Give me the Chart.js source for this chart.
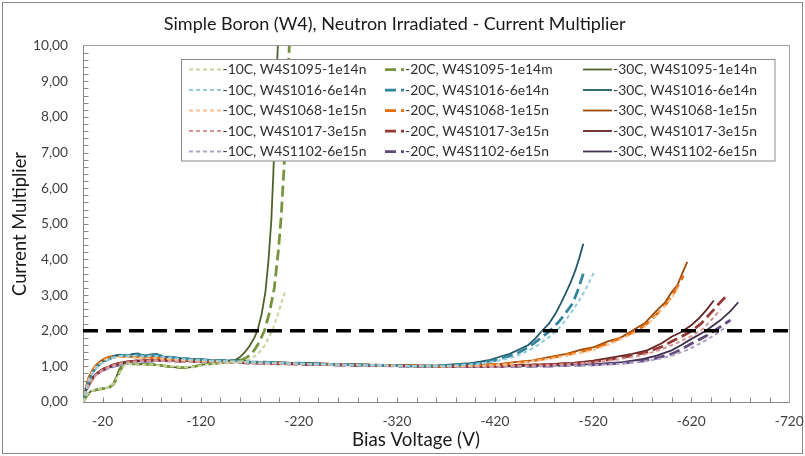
<!DOCTYPE html>
<html>
<head>
<meta charset="utf-8">
<script src="https://cdn.jsdelivr.net/npm/chart.js@4.4.1/dist/chart.umd.min.js"></script>
<style>
  html, body { margin: 0; padding: 0; background: #fff; }
</style>
</head>
<body>
<canvas id="chart" width="805" height="456"></canvas>
<script>
const TITLE = 'Simple Boron (W4), Neutron Irradiated - Current Multiplier';
const X_TITLE = 'Bias Voltage (V)';
const Y_TITLE = 'Current Multiplier';

const xTicks = [-720, -620, -520, -420, -320, -220, -120, -20];
const yTicks = [0, 1, 2, 3, 4, 5, 6, 7, 8, 9, 10];
const threshold = 2;

const labels = [
  '-10C, W4S1095-1e14n', '-10C, W4S1016-6e14n', '-10C, W4S1068-1e15n', '-10C, W4S1017-3e15n', '-10C, W4S1102-6e15n',
  '-20C, W4S1095-1e14m', '-20C, W4S1016-6e14n', '-20C, W4S1068-1e15n', '-20C, W4S1017-3e15n', '-20C, W4S1102-6e15n',
  '-30C, W4S1095-1e14n', '-30C, W4S1016-6e14n', '-30C, W4S1068-1e15n', '-30C, W4S1017-3e15n', '-30C, W4S1102-6e15n'
];

// W4S1095-1e14 (green), own voltage steps
const vG10 = [0,-4,-8,-12,-17,-22,-27,-31,-35,-39,-42,-46,-53,-61,-70,-80,-90,-100,-108,-116,-125,-135,-145,-153,-162,-170,-178,-185,-193,-198,-203,-206];
const mG10 = [0,0.2,0.3,0.35,0.37,0.39,0.43,0.52,0.7,0.9,1.02,1.07,1.06,1.05,1.05,1.02,1.0,0.98,0.97,1.0,1.05,1.07,1.09,1.1,1.14,1.2,1.33,1.58,2.0,2.4,2.85,3.1];
const vG20 = [0,-4,-8,-12,-17,-22,-27,-31,-35,-38,-41,-45,-52,-60,-68,-77,-87,-97,-105,-113,-122,-132,-142,-150,-158,-165,-172,-178,-185,-190,-195,-199,-202,-205,-208,-211];
const mG20 = [0,0.18,0.28,0.33,0.36,0.38,0.41,0.5,0.68,0.9,1.02,1.08,1.07,1.05,1.06,1.03,1.0,0.98,0.96,0.99,1.05,1.08,1.1,1.12,1.15,1.22,1.35,1.6,2.0,2.5,3.2,4.2,5.2,6.6,8.4,10.5];
const vG30 = [0,-4,-8,-12,-17,-22,-27,-31,-34,-37,-40,-44,-50,-58,-66,-75,-85,-95,-103,-110,-120,-130,-140,-148,-155,-160,-165,-170,-175,-178,-182,-186,-189,-192,-194,-196,-198,-200];
const mG30 = [0,0.2,0.3,0.34,0.37,0.38,0.42,0.52,0.7,0.92,1.04,1.1,1.08,1.06,1.07,1.04,1.0,0.97,0.95,0.98,1.04,1.08,1.1,1.12,1.17,1.26,1.4,1.58,1.82,2.02,2.45,3.1,3.95,5.1,6.4,7.9,9.6,11];

// common low-voltage steps for the other samples
const vBase = [0,-3,-6,-10,-14,-18,-22,-27,-32,-38,-44,-50,-56,-62,-68,-75,-82,-90,-100,-110,-120,-132,-145,-158,-170,-185,-200,-215,-230,-245,-260,-275,-290,-305,-320,-335,-350,-365];

// W4S1016-6e14 (blue)
const mB10 = [0,0.3,0.57,0.8,0.96,1.06,1.13,1.19,1.25,1.29,1.3,1.31,1.3,1.28,1.3,1.29,1.26,1.24,1.21,1.19,1.18,1.16,1.15,1.14,1.12,1.11,1.1,1.08,1.07,1.06,1.05,1.04,1.03,1.03,1.02,1.01,1.0,1.01,
              1.03,1.06,1.14,1.27,1.45,1.64,1.82,2.0,2.3,2.6,2.95,3.3,3.65];
const vB10 = vBase.concat([-380,-400,-420,-440,-455,-466,-475,-483,-492,-500,-508,-515,-521]);
const mB20 = [0,0.33,0.6,0.84,0.99,1.09,1.15,1.21,1.28,1.31,1.3,1.32,1.33,1.3,1.31,1.32,1.28,1.25,1.22,1.2,1.19,1.16,1.17,1.15,1.12,1.12,1.1,1.09,1.08,1.07,1.05,1.05,1.04,1.03,1.02,1.01,1.01,1.02,
              1.04,1.08,1.17,1.33,1.55,1.78,2.0,2.25,2.5,2.76,3.1,3.6];
const vB20 = vBase.concat([-380,-400,-420,-440,-455,-466,-476,-485,-492,-499,-504,-510]);
const mB30 = [0,0.35,0.62,0.85,1.0,1.1,1.16,1.22,1.3,1.33,1.28,1.34,1.36,1.29,1.33,1.35,1.27,1.26,1.23,1.21,1.2,1.17,1.16,1.18,1.13,1.11,1.12,1.08,1.1,1.06,1.05,1.06,1.03,1.04,1.01,1.02,1.0,1.03,
              1.06,1.08,1.13,1.18,1.27,1.35,1.48,1.6,1.78,2.0,2.2,2.5,2.76,3.05,3.35,3.7,4.05,4.44];
const vB30 = vBase.concat([-380,-392,-405,-415,-425,-435,-445,-454,-461,-468,-475,-482,-487,-492,-497,-502,-506,-510]);

// W4S1068-1e15 (orange)
const mO10 = [0,0.36,0.65,0.88,1.02,1.11,1.18,1.23,1.25,1.27,1.26,1.25,1.25,1.24,1.23,1.23,1.21,1.2,1.18,1.17,1.16,1.15,1.14,1.13,1.11,1.1,1.09,1.08,1.07,1.06,1.05,1.04,1.03,1.03,1.02,1.01,1.01,1.0,
              1.01,1.02,1.04,1.08,1.15,1.21,1.3,1.38,1.46,1.66,1.85,2.0,2.3,2.65,3.0,3.25];
const vO10 = vBase.concat([-380,-400,-425,-440,-459,-475,-493,-508,-521,-540,-555,-568,-580,-592,-602,-608]);
const mO20 = [0,0.38,0.68,0.9,1.04,1.13,1.2,1.25,1.27,1.29,1.27,1.26,1.27,1.25,1.24,1.25,1.22,1.21,1.19,1.18,1.17,1.16,1.14,1.14,1.12,1.11,1.1,1.08,1.07,1.06,1.05,1.04,1.04,1.03,1.02,1.02,1.01,1.01,
              1.02,1.03,1.05,1.09,1.16,1.23,1.33,1.41,1.5,1.7,1.85,2.0,2.25,2.6,2.95,3.25,3.55];
const vO20 = vBase.concat([-380,-400,-425,-440,-459,-475,-493,-508,-521,-540,-552,-565,-577,-590,-600,-606,-612]);
const mO30 = [0,0.4,0.7,0.92,1.06,1.15,1.22,1.27,1.29,1.3,1.28,1.27,1.29,1.26,1.25,1.27,1.24,1.22,1.2,1.2,1.18,1.17,1.15,1.16,1.12,1.12,1.1,1.09,1.07,1.08,1.05,1.04,1.05,1.03,1.02,1.03,1.01,1.02,
              1.03,1.04,1.06,1.12,1.17,1.26,1.35,1.47,1.54,1.7,1.8,2.02,2.22,2.57,2.78,3.08,3.28,3.62,3.93];
const vO30 = vBase.concat([-380,-400,-425,-440,-459,-475,-493,-508,-521,-535,-548,-561,-573,-585,-593,-600,-606,-611,-616]);

// W4S1017-3e15 (red)
const mR10 = [0,0.27,0.47,0.64,0.77,0.86,0.93,0.99,1.04,1.08,1.11,1.13,1.15,1.15,1.16,1.17,1.16,1.15,1.14,1.14,1.13,1.12,1.11,1.11,1.09,1.08,1.08,1.06,1.06,1.05,1.04,1.03,1.03,1.02,1.01,1.01,1.0,1.0,
              1.0,1.0,1.01,1.02,1.04,1.07,1.11,1.17,1.26,1.35,1.48,1.65,1.85,2.05,2.35,2.6];
const vR10 = vBase.concat([-380,-400,-425,-450,-475,-500,-520,-540,-560,-575,-590,-605,-620,-632,-642,-650]);
const mR20 = [0,0.28,0.48,0.66,0.79,0.87,0.94,1.0,1.05,1.09,1.12,1.14,1.16,1.16,1.17,1.18,1.17,1.16,1.15,1.15,1.14,1.13,1.12,1.12,1.1,1.09,1.08,1.07,1.06,1.06,1.04,1.04,1.03,1.02,1.02,1.01,1.01,1.0,
              1.0,1.0,1.01,1.03,1.05,1.08,1.13,1.2,1.3,1.4,1.55,1.7,1.82,1.97,2.2,2.5,2.75,2.95];
const vR20 = vBase.concat([-380,-400,-425,-450,-475,-500,-520,-540,-560,-575,-590,-600,-609,-619,-630,-640,-648,-655]);
const mR30 = [0,0.3,0.5,0.68,0.8,0.88,0.95,1.0,1.06,1.1,1.13,1.15,1.17,1.16,1.18,1.2,1.18,1.17,1.16,1.15,1.16,1.14,1.12,1.13,1.1,1.09,1.1,1.07,1.06,1.07,1.04,1.05,1.03,1.02,1.03,1.01,1.02,1.0,
              1.01,1.0,1.02,1.04,1.06,1.1,1.16,1.25,1.35,1.45,1.65,1.83,1.95,2.13,2.35,2.6,2.85];
const vR30 = vBase.concat([-380,-400,-425,-450,-475,-500,-520,-540,-560,-575,-590,-600,-609,-619,-628,-636,-643]);

// W4S1102-6e15 (purple)
const mP10 = [0,0.32,0.52,0.67,0.78,0.85,0.9,0.95,1.0,1.04,1.07,1.1,1.12,1.13,1.14,1.15,1.15,1.14,1.14,1.13,1.12,1.12,1.1,1.1,1.08,1.08,1.07,1.06,1.05,1.04,1.03,1.03,1.02,1.01,1.01,1.0,1.0,0.99,
              0.99,0.99,0.99,1.0,1.01,1.02,1.04,1.08,1.13,1.2,1.3,1.45,1.65,1.9,2.12];
const vP10 = vBase.concat([-380,-400,-425,-450,-475,-500,-525,-550,-570,-585,-600,-615,-630,-645,-656]);
const mP20 = [0,0.33,0.53,0.68,0.79,0.86,0.91,0.96,1.01,1.05,1.08,1.11,1.13,1.14,1.15,1.16,1.16,1.15,1.15,1.14,1.13,1.13,1.11,1.11,1.09,1.09,1.07,1.07,1.05,1.05,1.04,1.03,1.02,1.02,1.01,1.01,1.0,1.0,
              0.99,0.99,1.0,1.0,1.01,1.03,1.05,1.09,1.15,1.23,1.35,1.48,1.62,1.85,2.08,2.3];
const vP20 = vBase.concat([-380,-400,-425,-450,-475,-500,-525,-550,-570,-585,-600,-610,-619,-635,-648,-660]);
const mP30 = [0,0.35,0.55,0.7,0.8,0.87,0.92,0.97,1.02,1.06,1.09,1.12,1.14,1.15,1.17,1.18,1.17,1.16,1.17,1.15,1.14,1.15,1.12,1.13,1.1,1.1,1.08,1.08,1.06,1.06,1.04,1.04,1.02,1.03,1.01,1.02,1.0,1.01,
              1.0,0.99,1.0,1.01,1.02,1.04,1.07,1.12,1.2,1.3,1.45,1.6,1.75,2.0,2.3,2.55,2.8];
const vP30 = vBase.concat([-380,-400,-425,-450,-475,-500,-525,-550,-570,-585,-600,-610,-619,-635,-650,-660,-668]);

const volts = [vG10, vB10, vO10, vR10, vP10, vG20, vB20, vO20, vR20, vP20, vG30, vB30, vO30, vR30, vP30];
const mults = [mG10, mB10, mO10, mR10, mP10, mG20, mB20, mO20, mR20, mP20, mG30, mB30, mO30, mR30, mP30];
const colors = [
  '#c3d69b', '#93cddd', '#fac090', '#d99694', '#b3a2c7',
  '#77933c', '#31859c', '#e46c0a', '#953735', '#604a7b',
  '#4f6228', '#215968', '#984807', '#632523', '#403152'
];
// line style per temperature: -10C short dash, -20C long dash, -30C solid
const tempStyle = [
  { width: 2, dash: [4, 3] },
  { width: 2.75, dash: [11, 5] },
  { width: 1.8, dash: [] }
];

const fam = 'Lato, "Open Sans", sans-serif';
const mctx = document.createElement('canvas').getContext('2d');
function fit(text, w) {
  mctx.font = '100px ' + fam;
  return 100 * w / mctx.measureText(text).width;
}
const titleSize = fit(TITLE, 462);
const tickSize = fit('10,00', 35);
const legSize = fit(labels[0], 144);
const xTitleSize = fit(X_TITLE, 128);
const yTitleSize = fit(Y_TITLE, 144);

const datasets = [{
  label: 'threshold',
  data: [{ x: 0, y: threshold }, { x: -720, y: threshold }],
  borderColor: '#000', borderWidth: 3.5, borderDash: [15, 8],
  pointRadius: 0
}];
labels.forEach((lab, i) => {
  const st = tempStyle[Math.floor(i / 5)];
  const v = volts[i], m = mults[i];
  const n = Math.min(v.length, m.length);
  const pts = [];
  for (let k = 0; k < n; k++) pts.push({ x: v[k], y: m[k] });
  datasets.push({
    label: lab, data: pts,
    borderColor: colors[i], borderWidth: st.width, borderDash: st.dash,
    pointRadius: 0, tension: 0
  });
});

const frame = {
  id: 'frame',
  beforeDraw(chart) {
    const c = chart.ctx;
    c.save();
    c.fillStyle = '#fff';
    c.fillRect(0, 0, chart.width, chart.height);
    c.strokeStyle = '#8a8a8a';
    c.lineWidth = 1;
    c.strokeRect(2.5, 2.5, 800, 451);
    c.restore();
  },
  beforeDatasetsDraw(chart) {
    const c = chart.ctx, a = chart.chartArea;
    const xs = chart.scales.x, ys = chart.scales.y;
    const L = Math.floor(a.left) + 0.5, R = Math.floor(a.right) + 0.5;
    const T = Math.floor(a.top) + 0.5, B = Math.floor(a.bottom) + 0.5;
    c.save();
    c.lineWidth = 1;
    c.strokeStyle = '#a0a0a0';
    c.strokeRect(L, T, R - L, B - T);
    c.strokeStyle = '#868686';
    c.beginPath();
    c.moveTo(L, T); c.lineTo(L, B); c.lineTo(R, B);
    for (let v = -20; v >= -700; v -= 20) {
      const px = Math.round(xs.getPixelForValue(v)) + 0.5;
      c.moveTo(px, B); c.lineTo(px, B - 5);
    }
    for (let k = 1; k < 50; k++) {
      const py = Math.round(ys.getPixelForValue(k * 0.2)) + 0.5;
      c.moveTo(L, py); c.lineTo(L + 5, py);
    }
    c.stroke();
    c.restore();
  },
  afterDatasetsDraw(chart) {
    const c = chart.ctx;
    c.save();
    // legend box
    c.fillStyle = '#fff';
    c.fillRect(181.5, 59.5, 593.5, 101.5);
    c.strokeStyle = '#8c8c8c';
    c.lineWidth = 1;
    c.strokeRect(181.5, 59.5, 593.5, 101.5);
    const textX = [222.5, 405, 613];
    const lineX = [189, 385, 583];
    c.font = legSize + 'px ' + fam;
    c.textBaseline = 'middle';
    c.textAlign = 'left';
    for (let i = 0; i < labels.length; i++) {
      const col = Math.floor(i / 5), row = i % 5;
      const y = 69.5 + row * 20.5;
      const ds = chart.data.datasets[i + 1];
      c.strokeStyle = ds.borderColor;
      c.lineWidth = ds.borderWidth;
      c.setLineDash(ds.borderDash);
      c.beginPath();
      c.moveTo(lineX[col], y); c.lineTo(textX[col] - 1, y);
      c.stroke();
      c.setLineDash([]);
      c.fillStyle = '#303030';
      c.fillText(labels[i], textX[col], y + 0.5);
    }
    // axis titles
    c.fillStyle = '#1a1a1a';
    c.textAlign = 'center';
    c.font = xTitleSize + 'px ' + fam;
    c.fillText(X_TITLE, 416, 440);
    c.translate(20, 224);
    c.rotate(-Math.PI / 2);
    c.font = yTitleSize + 'px ' + fam;
    c.fillText(Y_TITLE, 0, 0);
    c.restore();
  }
};

new Chart(document.getElementById('chart'), {
  type: 'line',
  data: { datasets },
  options: {
    responsive: false,
    animation: false,
    layout: { padding: { left: 0, right: 15.7, top: 0, bottom: 0 } },
    plugins: {
      legend: { display: false },
      tooltip: { enabled: false },
      title: {
        display: true, text: TITLE, color: '#1a1a1a',
        font: { family: fam, size: titleSize, weight: 'normal', lineHeight: 1.2 },
        padding: { top: 24 - titleSize * 0.6, bottom: 45.7 - 24 - titleSize * 0.6 }
      }
    },
    scales: {
      x: {
        type: 'linear', min: -720, max: 0, reverse: true,
        grid: { display: false, drawTicks: false },
        border: { display: false },
        afterBuildTicks: s => { s.ticks = xTicks.map(v => ({ value: v })); },
        afterFit: s => { s.height = 54; },
        ticks: {
          color: '#404040', autoSkip: false, maxRotation: 0,
          font: { family: fam, size: tickSize },
          padding: 20 - tickSize * 0.6
        }
      },
      y: {
        type: 'linear', min: 0, max: 10,
        grid: { display: false, drawTicks: false },
        border: { display: false },
        afterBuildTicks: s => { s.ticks = yTicks.map(v => ({ value: v })); },
        afterFit: s => { s.width = 83; },
        ticks: {
          color: '#404040', padding: 15,
          font: { family: fam, size: tickSize },
          callback: v => v.toFixed(2).replace('.', ',')
        }
      }
    }
  },
  plugins: [frame]
});
</script>
</body>
</html>
